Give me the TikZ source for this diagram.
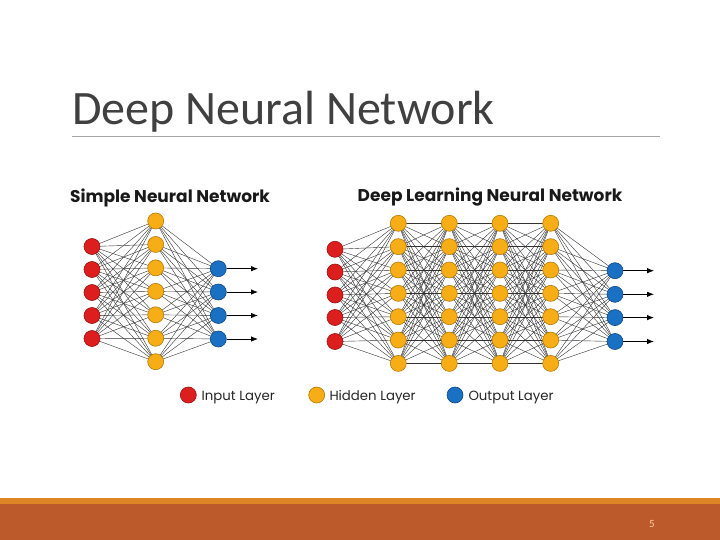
\documentclass[tikz,border=0pt]{standalone}
\usepackage{fontspec}
\setmainfont{Carlito}
\newfontfamily\popfont{Poppins}
\usetikzlibrary{arrows.meta}
\definecolor{titlegray}{HTML}{404040}
\definecolor{rulegray}{HTML}{A6A6A6}
\definecolor{barorange}{HTML}{DE8626}
\definecolor{barrust}{HTML}{BC5A2C}
\definecolor{inred}{HTML}{DC1E1E}
\definecolor{inredd}{HTML}{9E1010}
\definecolor{hidor}{HTML}{F7AE16}
\definecolor{hidord}{HTML}{B57A05}
\definecolor{outbl}{HTML}{1A70C2}
\definecolor{outbld}{HTML}{0E4A85}
\tikzset{
  neuron/.style={circle, inner sep=0pt, minimum size=16pt, line width=0.6pt},
  inN/.style={neuron, fill=inred, draw=inredd},
  hidN/.style={neuron, fill=hidor, draw=hidord},
  outN/.style={neuron, fill=outbl, draw=outbld},
  wire/.style={draw=black!80, line width=0.4pt},
  outarrow/.style={draw=black, line width=0.8pt, -{Latex[length=7pt,width=5.5pt]}},
  nettitle/.style={font=\popfont\bfseries\fontsize{17}{19}\selectfont, text=black!90},
  legtext/.style={font=\popfont\fontsize{13.3}{15}\selectfont, text=black!85, anchor=base west, inner sep=0pt}
}
\begin{document}
\begin{tikzpicture}[x=1pt,y=-1pt]
\useasboundingbox (0,0) rectangle (720,540);
\fill[white] (0,0) rectangle (720,540);
% title
\node[anchor=base west, inner sep=0pt, text=titlegray, font=\fontsize{48}{52}\selectfont] (title) at (72,125) {Deep Neural Network};
\draw[rulegray, line width=0.8pt] (72,136) -- (660,136);
% bottom bars
\fill[barorange] (0,498) rectangle (720,504);
\fill[barrust] (0,504) rectangle (720,540);
\node[text=orange!40!white, font=\fontsize{11}{12}\selectfont] (pnum) at (652,524) {5};

% ---------- Simple network ----------
\node[nettitle] (stitle) at (170,197.5) {Simple Neural Network};
\foreach \i/\y in {1/246.5,2/269.5,3/292.5,4/315.5,5/338.5}
  \coordinate (sic\i) at (92,\y);
\foreach \i in {1,...,7}
  \coordinate (shc\i) at (155.7,{221+(\i-1)*23.45});
\foreach \i/\y in {1/268.7,2/292,3/315.5,4/339}
  \coordinate (soc\i) at (218.3,\y);
\foreach \i in {1,...,5}\foreach \j in {1,...,7}
  \draw[wire] (sic\i) -- (shc\j);
\foreach \i in {1,...,7}\foreach \j in {1,...,4}
  \draw[wire] (shc\i) -- (soc\j);
\foreach \i in {1,...,5} \node[inN] (si\i) at (sic\i) {};
\foreach \i in {1,...,7} \node[hidN] (sh\i) at (shc\i) {};
\foreach \i/\y in {1/268.7,2/292,3/315.5,4/339}{
  \node[outN] (so\i) at (soc\i) {};
  \coordinate (sae\i) at (258,\y);
  \draw[outarrow] (so\i) -- (sae\i);
}

% ---------- Deep network ----------
\node[nettitle] (dtitle) at (490,197.5) {Deep Learning Neural Network};
\foreach \i/\y in {1/249.3,2/272,3/295,4/317.5,5/341.5}
  \coordinate (dic\i) at (335,\y);
\foreach \l/\x in {1/398.3,2/449.3,3/500,4/550.7}
  \foreach \i in {1,...,7}
    \coordinate (dh\l c\i) at (\x,{223.3+(\i-1)*23.35});
\foreach \i/\y in {1/270.7,2/294.3,3/317.6,4/341.5}
  \coordinate (doc\i) at (615,\y);
\foreach \i in {1,...,5}\foreach \j in {1,...,7}
  \draw[wire] (dic\i) -- (dh1c\j);
\foreach \l/\m in {1/2,2/3,3/4}
  \foreach \i in {1,...,7}\foreach \j in {1,...,7}
    \draw[wire] (dh\l c\i) -- (dh\m c\j);
\foreach \i in {1,...,7}\foreach \j in {1,...,4}
  \draw[wire] (dh4c\i) -- (doc\j);
\foreach \i in {1,...,5} \node[inN] (di\i) at (dic\i) {};
\foreach \l in {1,...,4}\foreach \i in {1,...,7}
  \node[hidN] (dh\l n\i) at (dh\l c\i) {};
\foreach \i/\y in {1/270.7,2/294.3,3/317.6,4/341.5}{
  \node[outN] (do\i) at (doc\i) {};
  \coordinate (dae\i) at (654,\y);
  \draw[outarrow] (do\i) -- (dae\i);
}

% ---------- Legend ----------
\node[inN] (lin) at (188.3,395) {};
\node[legtext] (lint) at (201.5,400) {Input Layer};
\node[hidN] (lhid) at (316.7,395) {};
\node[legtext] (lhidt) at (329.3,400) {Hidden Layer};
\node[outN] (lout) at (455,395) {};
\node[legtext] (loutt) at (468.3,400) {Output Layer};
\end{tikzpicture}
\end{document}
